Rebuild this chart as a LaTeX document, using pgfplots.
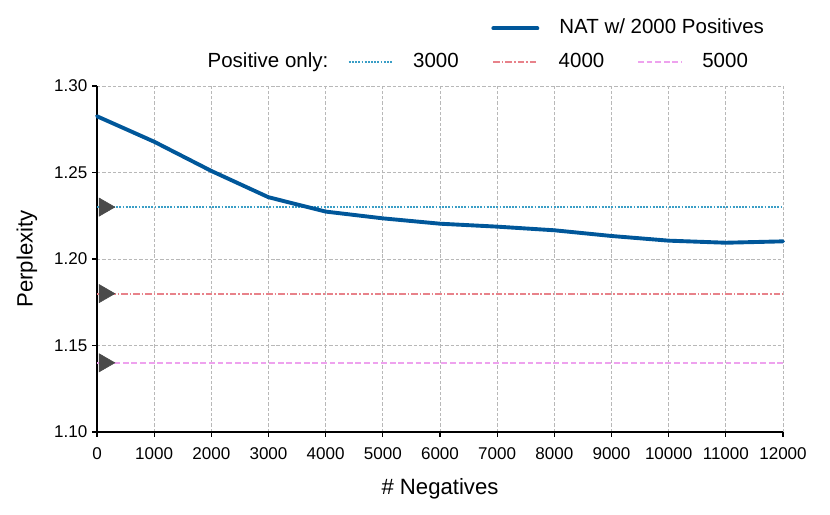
\documentclass[border=0pt]{standalone}
\usepackage{fontspec}
\setmainfont{Liberation Sans}
\usepackage{pgfplots}
\pgfplotsset{compat=1.18}
\definecolor{natblue}{HTML}{00579A}
\definecolor{linethree}{HTML}{3A9EC6}
\definecolor{linefour}{HTML}{E8828A}
\definecolor{linefive}{HTML}{EEA2EE}
\definecolor{tri}{HTML}{4A4A4A}
\definecolor{gridc}{HTML}{B8B8B8}
\begin{document}
\begin{tikzpicture}
\useasboundingbox (-69.84bp,-59.76bp) rectangle (527.76bp,311.04bp);
\begin{axis}[
  scale only axis, width=493.92bp, height=249.12bp,
  xmin=0, xmax=12000, ymin=1.10, ymax=1.30,
  xtick={0,1000,2000,3000,4000,5000,6000,7000,8000,9000,10000,11000,12000},
  ytick={1.10,1.15,1.20,1.25,1.30},
  axis x line*=bottom, axis y line*=left,
  axis line style={-, black, line width=0.8bp},
  tick align=outside, major tick length=3.5bp,
  tick style={black, line width=0.8bp},
  grid=major,
  grid style={gridc, line width=0.6bp, dash pattern=on 2.4bp off 1.4bp},
  tick label style={font=\fontsize{12.3}{14}\selectfont},
  /pgf/number format/assume math mode=true,
  scaled ticks=false,
  xticklabel style={yshift=-4bp, /pgf/number format/1000 sep={}},
  yticklabel style={/pgf/number format/.cd, fixed, fixed zerofill, precision=2},
  xlabel={\# Negatives}, ylabel={Perplexity},
  every axis x label/.style={at={(axis description cs:0.5,0)}, anchor=center, yshift=-41bp, font=\fontsize{16}{19}\selectfont},
  every axis y label/.style={at={([xshift=-50.4bp]axis description cs:0,0.5)}, rotate=90, anchor=center, font=\fontsize{16}{19}\selectfont},
  legend columns=4,
  legend cell align=left,
  legend image code/.code={\draw[#1] (0bp,0bp) -- (31.7bp,0bp);},
  legend style={draw=none, fill=none, at={(axis description cs:0,1)}, anchor=south west,
    xshift=62.5bp, yshift=8bp,
    font=\fontsize{14.8}{17}\selectfont,
    nodes={inner sep=0pt, text height=10.5bp, text depth=3bp},
    row sep=11bp,
    /tikz/every odd column/.append style={column sep=14bp},
    /tikz/every even column/.append style={column sep=23.5bp}},
  clip=false,
]
\addlegendimage{empty legend}\addlegendentry{}
\addlegendimage{empty legend}\addlegendentry{}
\addlegendimage{color=natblue, line width=2.8bp, line cap=round}\addlegendentry{\makebox[0pt][l]{NAT w/ 2000 Positives}}
\addlegendimage{empty legend}\addlegendentry{}
\addlegendimage{empty legend}\addlegendentry{Positive only:\hspace*{-9.5bp}}
\addlegendimage{color=linethree, line width=1.4bp, dash pattern=on 1.3bp off 1.0bp}\addlegendentry{3000}
\addlegendimage{color=linefour, line width=1.4bp, dash pattern=on 4.7bp off 1.4bp on 1.2bp off 1.4bp}\addlegendentry{4000}
\addlegendimage{color=linefive, line width=1.4bp, dash pattern=on 4.2bp off 2.0bp}\addlegendentry{5000}

\addplot[color=linethree, line width=1.4bp, dash pattern=on 1.3bp off 1.0bp, forget plot] coordinates {(0,1.23) (12000,1.23)};
\addplot[color=linefour, line width=1.4bp, dash pattern=on 4.7bp off 1.4bp on 1.2bp off 1.4bp, forget plot] coordinates {(0,1.18) (12000,1.18)};
\addplot[color=linefive, line width=1.4bp, dash pattern=on 4.2bp off 2.0bp, forget plot] coordinates {(0,1.14) (12000,1.14)};
\addplot[color=natblue, line width=2.8bp, line cap=round, line join=round, forget plot] coordinates {
(0,1.2825) (1000,1.2678) (2000,1.2509) (3000,1.2357) (4000,1.2274) (5000,1.2235)
(6000,1.2204) (7000,1.2187) (8000,1.2166) (9000,1.2133) (10000,1.2106) (11000,1.2094) (12000,1.2102)};
\addplot[only marks, mark=triangle*, mark size=7.5bp, mark options={rotate=-90, fill=tri, draw=tri}, forget plot]
  coordinates {(130,1.23) (130,1.18) (130,1.14)};
\end{axis}
\end{tikzpicture}
\end{document}
